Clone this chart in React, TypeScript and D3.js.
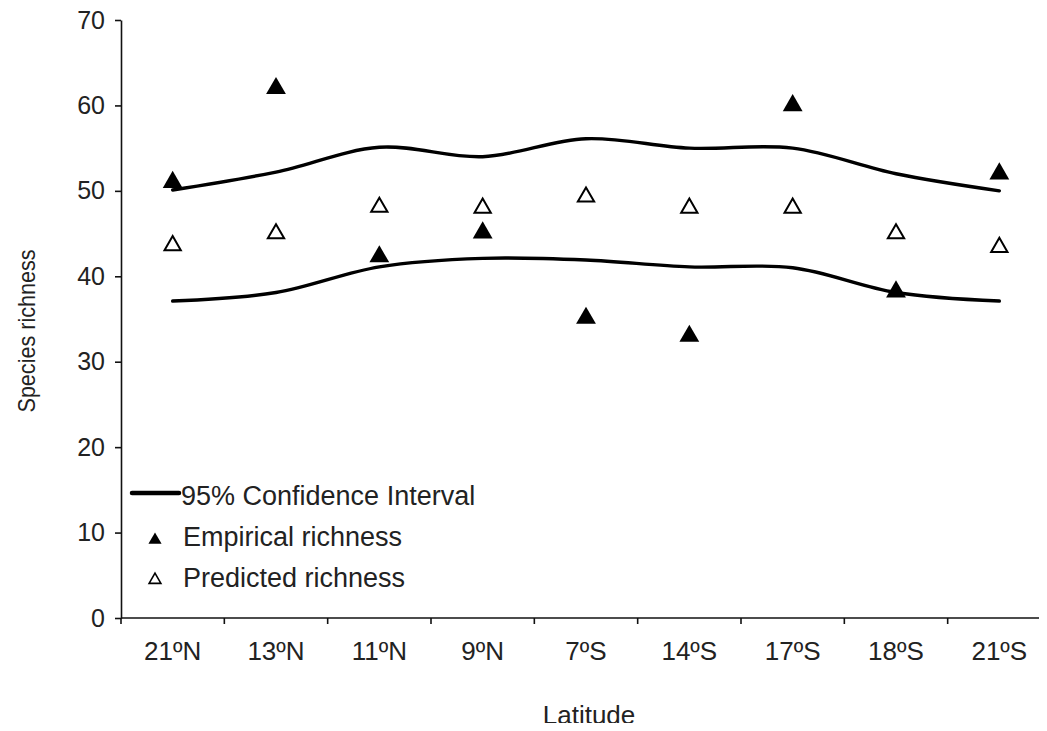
import React, { useEffect, useRef } from "react";
import * as d3 from "d3";

const latitudes = ["21ºN", "13ºN", "11ºN", "9ºN", "7ºS", "14ºS", "17ºS", "18ºS", "21ºS"];
const upperCI = [50.1, 52.2, 55.1, 54, 56.1, 55, 55, 52, 50];
const lowerCI = [37.1, 38.1, 41.1, 42.1, 41.9, 41.1, 41, 38.1, 37.1];
const empirical = [51, 62, 42.3, 45.1, 35.1, 33, 60, 38.2, 52];
const predicted = [43.6, 45, 48.1, 48, 49.3, 48, 48, 45, 43.4];
const yTicks = [0, 10, 20, 30, 40, 50, 60, 70];
const legendItems = ["95% Confidence Interval", "Empirical richness", "Predicted richness"];

function App() {
  const ref = useRef<SVGSVGElement>(null);

  useEffect(() => {
    const svg = d3.select(ref.current);
    svg.selectAll("*").remove();

    const font = "'Liberation Sans', Arial, sans-serif";
    const textColor = "#222";

    const x = d3.scaleBand().domain(latitudes).range([121, 1051]);
    const y = d3.scaleLinear().domain([0, 70]).range([618, 20]);
    const cx = (i) => x(latitudes[i]) + x.bandwidth() / 2;

    // y axis
    const yAxis = svg.append("g").attr("transform", "translate(121,0)").call(
      d3.axisLeft(y).tickValues(yTicks).tickSize(6).tickSizeOuter(0).tickPadding(10)
    );
    yAxis.select(".domain").attr("stroke", "#111").attr("stroke-width", 1.6);
    yAxis.selectAll(".tick line").attr("stroke", "#111").attr("stroke-width", 1.6);
    yAxis
      .selectAll("text")
      .attr("font-family", font)
      .attr("font-size", 25)
      .attr("fill", textColor);

    // x axis
    const xAxis = svg.append("g").attr("transform", "translate(0,618)");
    xAxis
      .append("line")
      .attr("x1", 121)
      .attr("x2", 1047)
      .attr("stroke", "#111")
      .attr("stroke-width", 1.6);
    xAxis
      .selectAll("line.tk")
      .data(latitudes)
      .enter()
      .append("line")
      .attr("class", "tk")
      .attr("x1", (d) => x(d))
      .attr("x2", (d) => x(d))
      .attr("y1", 0)
      .attr("y2", 6)
      .attr("stroke", "#111")
      .attr("stroke-width", 1.6);
    xAxis
      .selectAll("text")
      .data(latitudes)
      .enter()
      .append("text")
      .attr("x", (d) => x(d) + x.bandwidth() / 2)
      .attr("y", 42)
      .attr("text-anchor", "middle")
      .attr("font-family", font)
      .attr("font-size", 26)
      .attr("fill", textColor)
      .text((d) => d);

    // axis titles
    svg
      .append("text")
      .attr("x", 589)
      .attr("y", 724)
      .attr("text-anchor", "middle")
      .attr("font-family", font)
      .attr("font-size", 26)
      .attr("fill", textColor)
      .text("Latitude");
    svg
      .append("text")
      .attr("transform", "translate(35,331) rotate(-90)")
      .attr("text-anchor", "middle")
      .attr("font-family", font)
      .attr("font-size", 24)
      .attr("textLength", 163)
      .attr("lengthAdjust", "spacingAndGlyphs")
      .attr("fill", textColor)
      .text("Species richness");

    // confidence interval lines
    const line = d3
      .line()
      .x((d, i) => cx(i))
      .y((d) => y(d))
      .curve(d3.curveCatmullRom.alpha(0.5));
    [upperCI, lowerCI].forEach((arr) => {
      svg
        .append("path")
        .attr("d", line(arr))
        .attr("fill", "none")
        .attr("stroke", "#000")
        .attr("stroke-width", 3.4)
        .attr("stroke-linecap", "round");
    });

    const tri = d3.symbol().type(d3.symbolTriangle);

    // predicted
    svg
      .selectAll("path.pred")
      .data(predicted)
      .enter()
      .append("path")
      .attr("class", "pred")
      .attr("d", tri.size(115)())
      .attr("transform", (d, i) => `translate(${cx(i)},${y(d)})`)
      .attr("fill", "#fff")
      .attr("stroke", "#000")
      .attr("stroke-width", 2);

    // empirical
    svg
      .selectAll("path.emp")
      .data(empirical)
      .enter()
      .append("path")
      .attr("class", "emp")
      .attr("d", tri.size(170)())
      .attr("transform", (d, i) => `translate(${cx(i)},${y(d)})`)
      .attr("fill", "#000");

    // legend
    const lg = svg.append("g");
    lg.append("line")
      .attr("x1", 132)
      .attr("x2", 179)
      .attr("y1", 493)
      .attr("y2", 493)
      .attr("stroke", "#000")
      .attr("stroke-width", 4.5)
      .attr("stroke-linecap", "round");
    lg.append("path")
      .attr("d", tri.size(75)())
      .attr("transform", "translate(155,540)")
      .attr("fill", "#000");
    lg.append("path")
      .attr("d", tri.size(60)())
      .attr("transform", "translate(155,580)")
      .attr("fill", "#fff")
      .attr("stroke", "#000")
      .attr("stroke-width", 1.6);
    lg.selectAll("text")
      .data(legendItems)
      .enter()
      .append("text")
      .attr("x", (d, i) => (i === 0 ? 181 : 183))
      .attr("y", (d, i) => 505 + i * 41)
      .attr("font-family", font)
      .attr("font-size", 27)
      .attr("fill", textColor)
      .text((d) => d);
  }, []);

  return <svg ref={ref} width={1047} height={731} style={{ display: "block", margin: "-8px" }} />;
}

export default App;
